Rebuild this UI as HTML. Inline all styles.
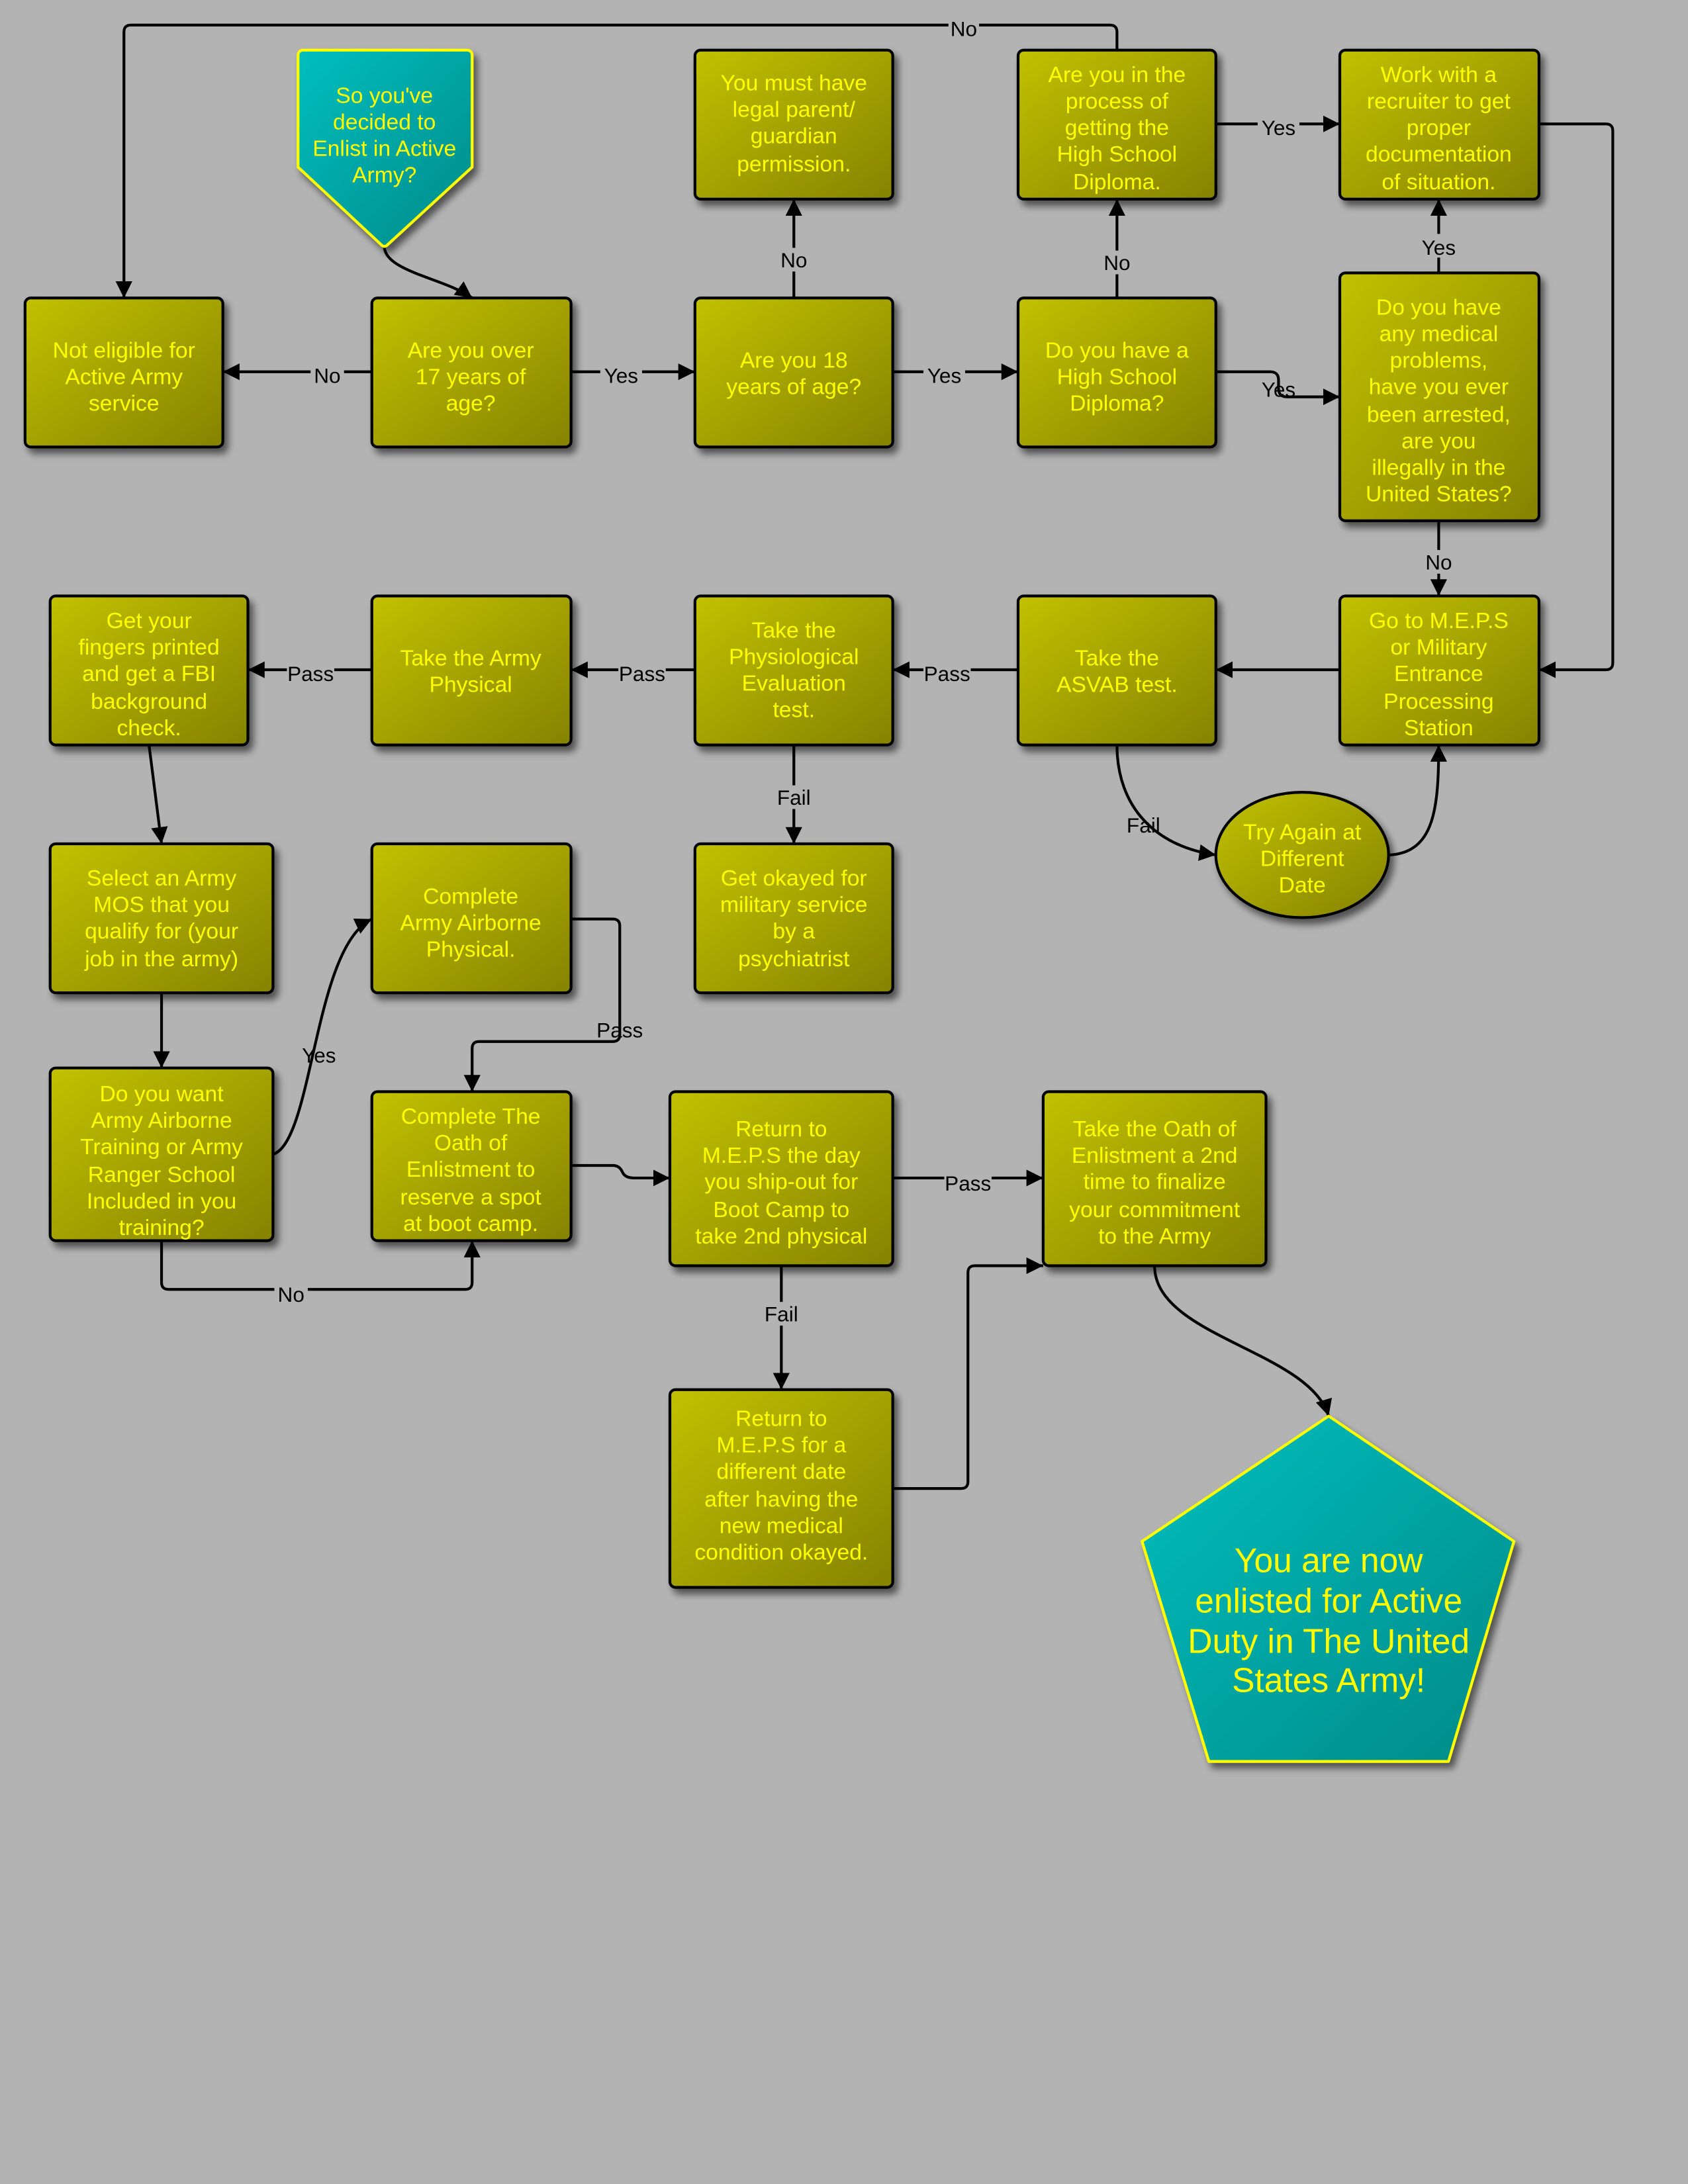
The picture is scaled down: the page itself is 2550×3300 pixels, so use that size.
<!DOCTYPE html>
<html><head><meta charset="utf-8"><style>
html,body{margin:0;padding:0;background:#b3b3b3;}
svg{display:block}
.t{font-family:"Liberation Sans",sans-serif;font-size:16px;fill:#ffff00;text-anchor:middle}
.l{font-family:"Liberation Sans",sans-serif;font-size:15px;fill:#000;text-anchor:middle}
.c{fill:none;stroke:#000;stroke-width:2}
</style></head><body>
<svg width="2550" height="3300" viewBox="0 0 1212 1568.5" preserveAspectRatio="none" xmlns="http://www.w3.org/2000/svg">
<defs>
<linearGradient id="g" x1="0" y1="0" x2="1" y2="1"><stop offset="0" stop-color="#c2c100"/><stop offset="1" stop-color="#858300"/></linearGradient>
<linearGradient id="tg" x1="0" y1="0" x2="1" y2="1"><stop offset="0" stop-color="#00bfbf"/><stop offset="1" stop-color="#008a88"/></linearGradient>
<filter id="sh" x="-20%" y="-20%" width="150%" height="150%"><feDropShadow dx="3" dy="4" stdDeviation="2.5" flood-color="#000" flood-opacity="0.55"/></filter>
<marker id="a" viewBox="0 0 10 10" refX="10" refY="5" markerWidth="6" markerHeight="6" orient="auto-start-reverse"><path d="M0,0 L10,5 L0,10 z" fill="#000"/></marker>
</defs>
<rect width="1212" height="1568.5" fill="#b3b3b3"/>

<!-- connectors -->
<g class="c" marker-end="url(#a)">
<path d="M276,177 C276,195 320,200 339,214"/>
<path d="M267,267 H160"/>
<path d="M410,267 H499"/>
<path d="M641,267 H731"/>
<path d="M570,214 V143"/>
<path d="M802,214 V143"/>
<path d="M873,267 H912 Q918,267 918,273 V279 Q918,285 924,285 H962"/>
<path d="M873,89 H962"/>
<path d="M1033,196 V143"/>
<path d="M802,36 V23 Q802,18 797,18 H94 Q89,18 89,23 V214"/>
<path d="M1105,89 H1153 Q1158,89 1158,94 V476 Q1158,481 1153,481 H1105"/>
<path d="M1033,374 V428"/>
<path d="M962,481 H873"/>
<path d="M731,481 H641"/>
<path d="M499,481 H410"/>
<path d="M267,481 H178"/>
<path d="M107,535 L116,606"/>
<path d="M570,535 V606"/>
<path d="M802,535 C802,580 830,608 873,614"/>
<path d="M998,614 C1030,612 1033,580 1033,535"/>
<path d="M116,713 V767"/>
<path d="M196,829 C225,820 225,680 267,660"/>
<path d="M116,891 V921 Q116,926 121,926 H334 Q339,926 339,921 V891"/>
<path d="M410,660 H440 Q445,660 445,665 V743 Q445,748 440,748 H344 Q339,748 339,753 V784"/>
<path d="M410,837 H440 Q445,837 447,842 Q449,846 455,846 H481"/>
<path d="M641,846 H749"/>
<path d="M561,909 V998"/>
<path d="M641,1069 H690 Q695,1069 695,1064 V914 Q695,909 700,909 H749"/>
<path d="M829,909 C829,960 940,970 954,1017"/>
</g>

<!-- labels -->
<g class="l">
<rect x="681" y="12" width="22" height="16" fill="#b3b3b3"/><text x="692" y="26">No</text>
<rect x="223" y="260" width="24" height="16" fill="#b3b3b3"/><text x="235" y="275">No</text>
<rect x="431" y="260" width="30" height="16" fill="#b3b3b3"/><text x="446" y="275">Yes</text>
<rect x="663" y="260" width="30" height="16" fill="#b3b3b3"/><text x="678" y="275">Yes</text>
<rect x="558" y="178" width="24" height="17" fill="#b3b3b3"/><text x="570" y="192">No</text>
<rect x="790" y="180" width="24" height="17" fill="#b3b3b3"/><text x="802" y="194">No</text>
<text x="918" y="285">Yes</text>
<rect x="903" y="83" width="30" height="16" fill="#b3b3b3"/><text x="918" y="97">Yes</text>
<rect x="1018" y="168" width="30" height="17" fill="#b3b3b3"/><text x="1033" y="183">Yes</text>
<rect x="1021" y="395" width="24" height="17" fill="#b3b3b3"/><text x="1033" y="409">No</text>
<rect x="663" y="475" width="34" height="16" fill="#b3b3b3"/><text x="680" y="489">Pass</text>
<rect x="444" y="475" width="34" height="16" fill="#b3b3b3"/><text x="461" y="489">Pass</text>
<rect x="206" y="475" width="34" height="16" fill="#b3b3b3"/><text x="223" y="489">Pass</text>
<rect x="556" y="564" width="28" height="17" fill="#b3b3b3"/><text x="570" y="578">Fail</text>
<text x="821" y="598">Fail</text>
<text x="229" y="763">Yes</text>
<rect x="197" y="921" width="24" height="16" fill="#b3b3b3"/><text x="209" y="935">No</text>
<text x="445" y="745">Pass</text>
<rect x="678" y="841" width="34" height="16" fill="#b3b3b3"/><text x="695" y="855">Pass</text>
<rect x="547" y="935" width="28" height="17" fill="#b3b3b3"/><text x="561" y="949">Fail</text>
</g>

<!-- boxes -->
<g fill="url(#g)" stroke="#000" stroke-width="2" filter="url(#sh)">
<rect x="18" y="214" width="142" height="107" rx="4"/>
<rect x="267" y="214" width="143" height="107" rx="4"/>
<rect x="499" y="214" width="142" height="107" rx="4"/>
<rect x="731" y="214" width="142" height="107" rx="4"/>
<rect x="962" y="196" width="143" height="178" rx="4"/>
<rect x="499" y="36" width="142" height="107" rx="4"/>
<rect x="731" y="36" width="142" height="107" rx="4"/>
<rect x="962" y="36" width="143" height="107" rx="4"/>
<rect x="36" y="428" width="142" height="107" rx="4"/>
<rect x="267" y="428" width="143" height="107" rx="4"/>
<rect x="499" y="428" width="142" height="107" rx="4"/>
<rect x="731" y="428" width="142" height="107" rx="4"/>
<rect x="962" y="428" width="143" height="107" rx="4"/>
<ellipse cx="935" cy="614" rx="62" ry="45"/>
<rect x="36" y="606" width="160" height="107" rx="4"/>
<rect x="267" y="606" width="143" height="107" rx="4"/>
<rect x="499" y="606" width="142" height="107" rx="4"/>
<rect x="36" y="767" width="160" height="124" rx="4"/>
<rect x="267" y="784" width="143" height="107" rx="4"/>
<rect x="481" y="784" width="160" height="125" rx="4"/>
<rect x="749" y="784" width="160" height="125" rx="4"/>
<rect x="481" y="998" width="160" height="142" rx="4"/>
</g>
<g fill="url(#tg)" stroke="#ffff00" stroke-width="2" stroke-linejoin="round" filter="url(#sh)">
<path d="M218,36 H335 Q339,36 339,40 V120 L278,176 Q276,178 274,176 L214,120 V40 Q214,36 218,36 Z"/>
<path d="M954,1017 L1087,1107 L1040,1265 H868 L820,1107 Z"/>
</g>

<!-- node text -->
<g class="t">
<text x="276" y="74">So you've</text><text x="276" y="93">decided to</text><text x="276" y="112">Enlist in Active</text><text x="276" y="131">Army?</text>
<text x="89" y="257">Not eligible for</text><text x="89" y="276">Active Army</text><text x="89" y="295">service</text>
<text x="338" y="257">Are you over</text><text x="338" y="276">17 years of</text><text x="338" y="295">age?</text>
<text x="570" y="264">Are you 18</text><text x="570" y="283">years of age?</text>
<text x="802" y="257">Do you have a</text><text x="802" y="276">High School</text><text x="802" y="295">Diploma?</text>
<text x="570" y="65">You must have</text><text x="570" y="84">legal parent/</text><text x="570" y="103">guardian</text><text x="570" y="123">permission.</text>
<text x="802" y="59">Are you in the</text><text x="802" y="78">process of</text><text x="802" y="97">getting the</text><text x="802" y="116">High School</text><text x="802" y="136">Diploma.</text>
<text x="1033" y="59">Work with a</text><text x="1033" y="78">recruiter to get</text><text x="1033" y="97">proper</text><text x="1033" y="116">documentation</text><text x="1033" y="136">of situation.</text>
<text x="1033" y="226">Do you have</text><text x="1033" y="245">any medical</text><text x="1033" y="264">problems,</text><text x="1033" y="283">have you ever</text><text x="1033" y="303">been arrested,</text><text x="1033" y="322">are you</text><text x="1033" y="341">illegally in the</text><text x="1033" y="360">United States?</text>
<text x="107" y="451">Get your</text><text x="107" y="470">fingers printed</text><text x="107" y="489">and get a FBI</text><text x="107" y="509">background</text><text x="107" y="528">check.</text>
<text x="338" y="478">Take the Army</text><text x="338" y="497">Physical</text>
<text x="570" y="458">Take the</text><text x="570" y="477">Physiological</text><text x="570" y="496">Evaluation</text><text x="570" y="515">test.</text>
<text x="802" y="478">Take the</text><text x="802" y="497">ASVAB test.</text>
<text x="1033" y="451">Go to M.E.P.S</text><text x="1033" y="470">or Military</text><text x="1033" y="489">Entrance</text><text x="1033" y="509">Processing</text><text x="1033" y="528">Station</text>
<text x="935" y="603">Try Again at</text><text x="935" y="622">Different</text><text x="935" y="641">Date</text>
<text x="116" y="636">Select an Army</text><text x="116" y="655">MOS that you</text><text x="116" y="674">qualify for (your</text><text x="116" y="694">job in the army)</text>
<text x="338" y="649">Complete</text><text x="338" y="668">Army Airborne</text><text x="338" y="687">Physical.</text>
<text x="570" y="636">Get okayed for</text><text x="570" y="655">military service</text><text x="570" y="674">by a</text><text x="570" y="694">psychiatrist</text>
<text x="116" y="791">Do you want</text><text x="116" y="810">Army Airborne</text><text x="116" y="829">Training or Army</text><text x="116" y="849">Ranger School</text><text x="116" y="868">Included in you</text><text x="116" y="887">training?</text>
<text x="338" y="807">Complete The</text><text x="338" y="826">Oath of</text><text x="338" y="845">Enlistment to</text><text x="338" y="865">reserve a spot</text><text x="338" y="884">at boot camp.</text>
<text x="561" y="816">Return to</text><text x="561" y="835">M.E.P.S the day</text><text x="561" y="854">you ship-out for</text><text x="561" y="874">Boot Camp to</text><text x="561" y="893">take 2nd physical</text>
<text x="829" y="816">Take the Oath of</text><text x="829" y="835">Enlistment a 2nd</text><text x="829" y="854">time to finalize</text><text x="829" y="874">your commitment</text><text x="829" y="893">to the Army</text>
<text x="561" y="1024">Return to</text><text x="561" y="1043">M.E.P.S for a</text><text x="561" y="1062">different date</text><text x="561" y="1082">after having the</text><text x="561" y="1101">new medical</text><text x="561" y="1120">condition okayed.</text>
<g style="font-size:24.5px"><text x="954" y="1129">You are now</text><text x="954" y="1158">enlisted for Active</text><text x="954" y="1187">Duty in The United</text><text x="954" y="1215">States Army!</text></g>
</g>
</svg>
</body></html>
